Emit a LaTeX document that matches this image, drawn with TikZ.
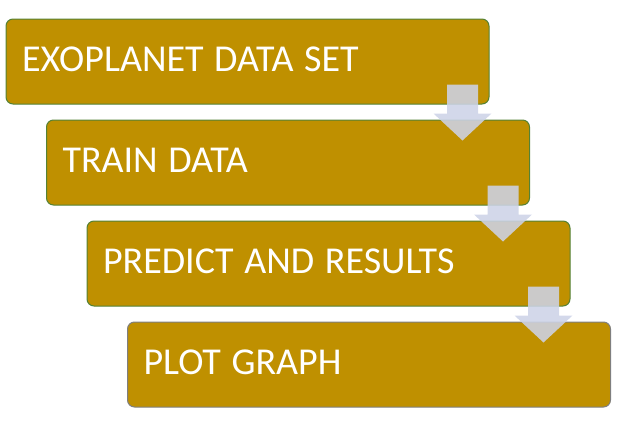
\documentclass[tikz,border=0pt]{standalone}
\usepackage{fontspec}
\setmainfont{Carlito}
\usetikzlibrary{calc}
\definecolor{boxgold}{RGB}{191,144,0}
\definecolor{boxgreen}{RGB}{84,130,53}
\definecolor{boxgray}{RGB}{127,127,127}
\definecolor{arrowblue}{RGB}{205,211,231}
\tikzset{
  stepbox/.style={draw=boxgreen, fill=boxgold, rounded corners=7, line width=1,
    anchor=north west, minimum width=483, minimum height=85, inner xsep=16,
    text width=451, align=left, text height=24.5, text depth=4,
    execute at begin node={\spaceskip=0.28em\xspaceskip=0pt\relax},
    text=white, font=\fontsize{38}{45}\selectfont},
  downarrow/.style={fill=arrowblue, fill opacity=0.88}
}
% block arrow pointing down, #1 = middle of the top edge
\newcommand{\blockarrow}[1]{%
  \fill[downarrow] (#1) ++(-15.5,0) -- ++(31,0) -- ++(0,29) -- ++(13.5,0)
    -- ++(-29,27) -- ++(-29,-27) -- ++(13.5,0) -- cycle;}

\begin{document}
\begin{tikzpicture}[x=1pt, y=-1pt]
  \useasboundingbox (0,0) rectangle (618,423);
  \node[stepbox] (dataset) at (5.5,18.5) {EXOPLANET DATA SET};
  \node[stepbox] (train) at (46,119.5) {TRAIN DATA};
  \node[stepbox] (predict) at (86.5,220.5) {PREDICT AND RESULTS};
  \node[stepbox, draw=boxgray] (plot) at (127,321.5) {PLOT GRAPH};
  \coordinate (a1) at ($(dataset.south east)+(-27,-20)$);
  \coordinate (a2) at ($(train.south east)+(-27,-20)$);
  \coordinate (a3) at ($(predict.south east)+(-27,-20)$);
  \blockarrow{a1}
  \blockarrow{a2}
  \blockarrow{a3}
\end{tikzpicture}
\end{document}
